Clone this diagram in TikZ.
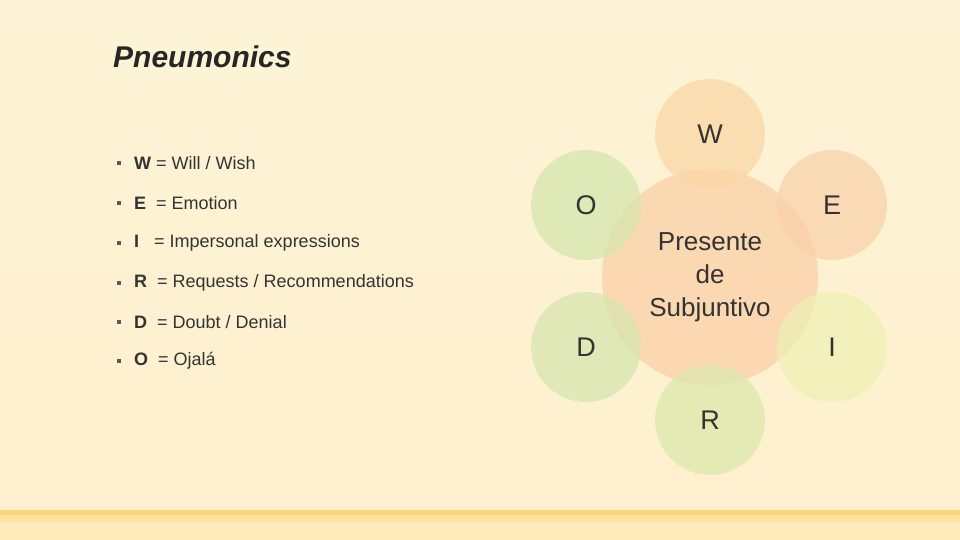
\documentclass[tikz,border=0pt]{standalone}
\usepackage{fontspec}
\setmainfont{Liberation Sans}
\definecolor{bgtop}{RGB}{253,243,214}
\definecolor{bgbot}{RGB}{254,240,205}
\definecolor{strA}{RGB}{250,214,120}
\definecolor{strB}{RGB}{252,228,160}
\definecolor{strC}{RGB}{253,236,185}
\definecolor{cC}{RGB}{250,208,168}
\definecolor{cW}{RGB}{250,215,165}
\definecolor{cE}{RGB}{250,210,170}
\definecolor{cG}{RGB}{214,230,175}
\definecolor{cI}{RGB}{238,240,180}
\definecolor{cR}{RGB}{220,232,172}
\begin{document}
\begin{tikzpicture}[x=1pt,y=-1pt,
  circ/.style={circle,minimum size=110pt,inner sep=0pt,fill opacity=0.75},
  lab/.style={font=\fontsize{27}{30}\selectfont,text=black!80},
  item/.style={anchor=west,font=\fontsize{18}{20}\selectfont,text=black!80,inner sep=0pt},
  bul/.style={fill=black!65,minimum size=4pt,inner sep=0pt}]
\fill[top color=bgtop,bottom color=bgbot] (0,0) rectangle (960,540);
\useasboundingbox (0,0) rectangle (960,540);
\fill[strA] (0,510) rectangle (960,515);
\fill[strB] (0,515) rectangle (960,540);
\fill[strC] (0,522) rectangle (960,540);
\node[anchor=west,font=\bfseries\itshape\fontsize{30}{34}\selectfont,text=black!85,inner sep=0pt] (t) at (113,57) {Pneumonics};
\foreach \y/\n/\txt in {163/a/{\textbf{W} = Will / Wish},203/b/{\textbf{E}\ \ = Emotion},243/c/{\textbf{I}\ \ \ = Impersonal expressions},283/d/{\textbf{R}\ \ = Requests / Recommendations},322/e/{\textbf{D}\ \ = Doubt / Denial},361/f/{\textbf{O}\ \ = Ojalá}}{
  \node[bul] (b\n) at (119,\y) {};
  \node[item] (i\n) at (134,\y) {\txt};
}
\node[circ,minimum size=216pt,fill=cC] (c) at (710,277) {};
\node[circ,fill=cW] (w) at (710,134) {};
\node[circ,fill=cE] (e) at (832,205) {};
\node[circ,fill=cG] (o) at (586,205) {};
\node[circ,fill=cG] (d) at (586,347) {};
\node[circ,fill=cI] (i) at (832,347) {};
\node[circ,fill=cR] (r) at (710,420) {};
\node[lab] at (w) {W};
\node[lab] at (e) {E};
\node[lab] at (o) {O};
\node[lab] at (d) {D};
\node[lab] at (i) {I};
\node[lab] at (r) {R};
\node[align=center,font=\fontsize{26}{33}\selectfont,text=black!80] at (c) {Presente\\de\\Subjuntivo};
\end{tikzpicture}
\end{document}
